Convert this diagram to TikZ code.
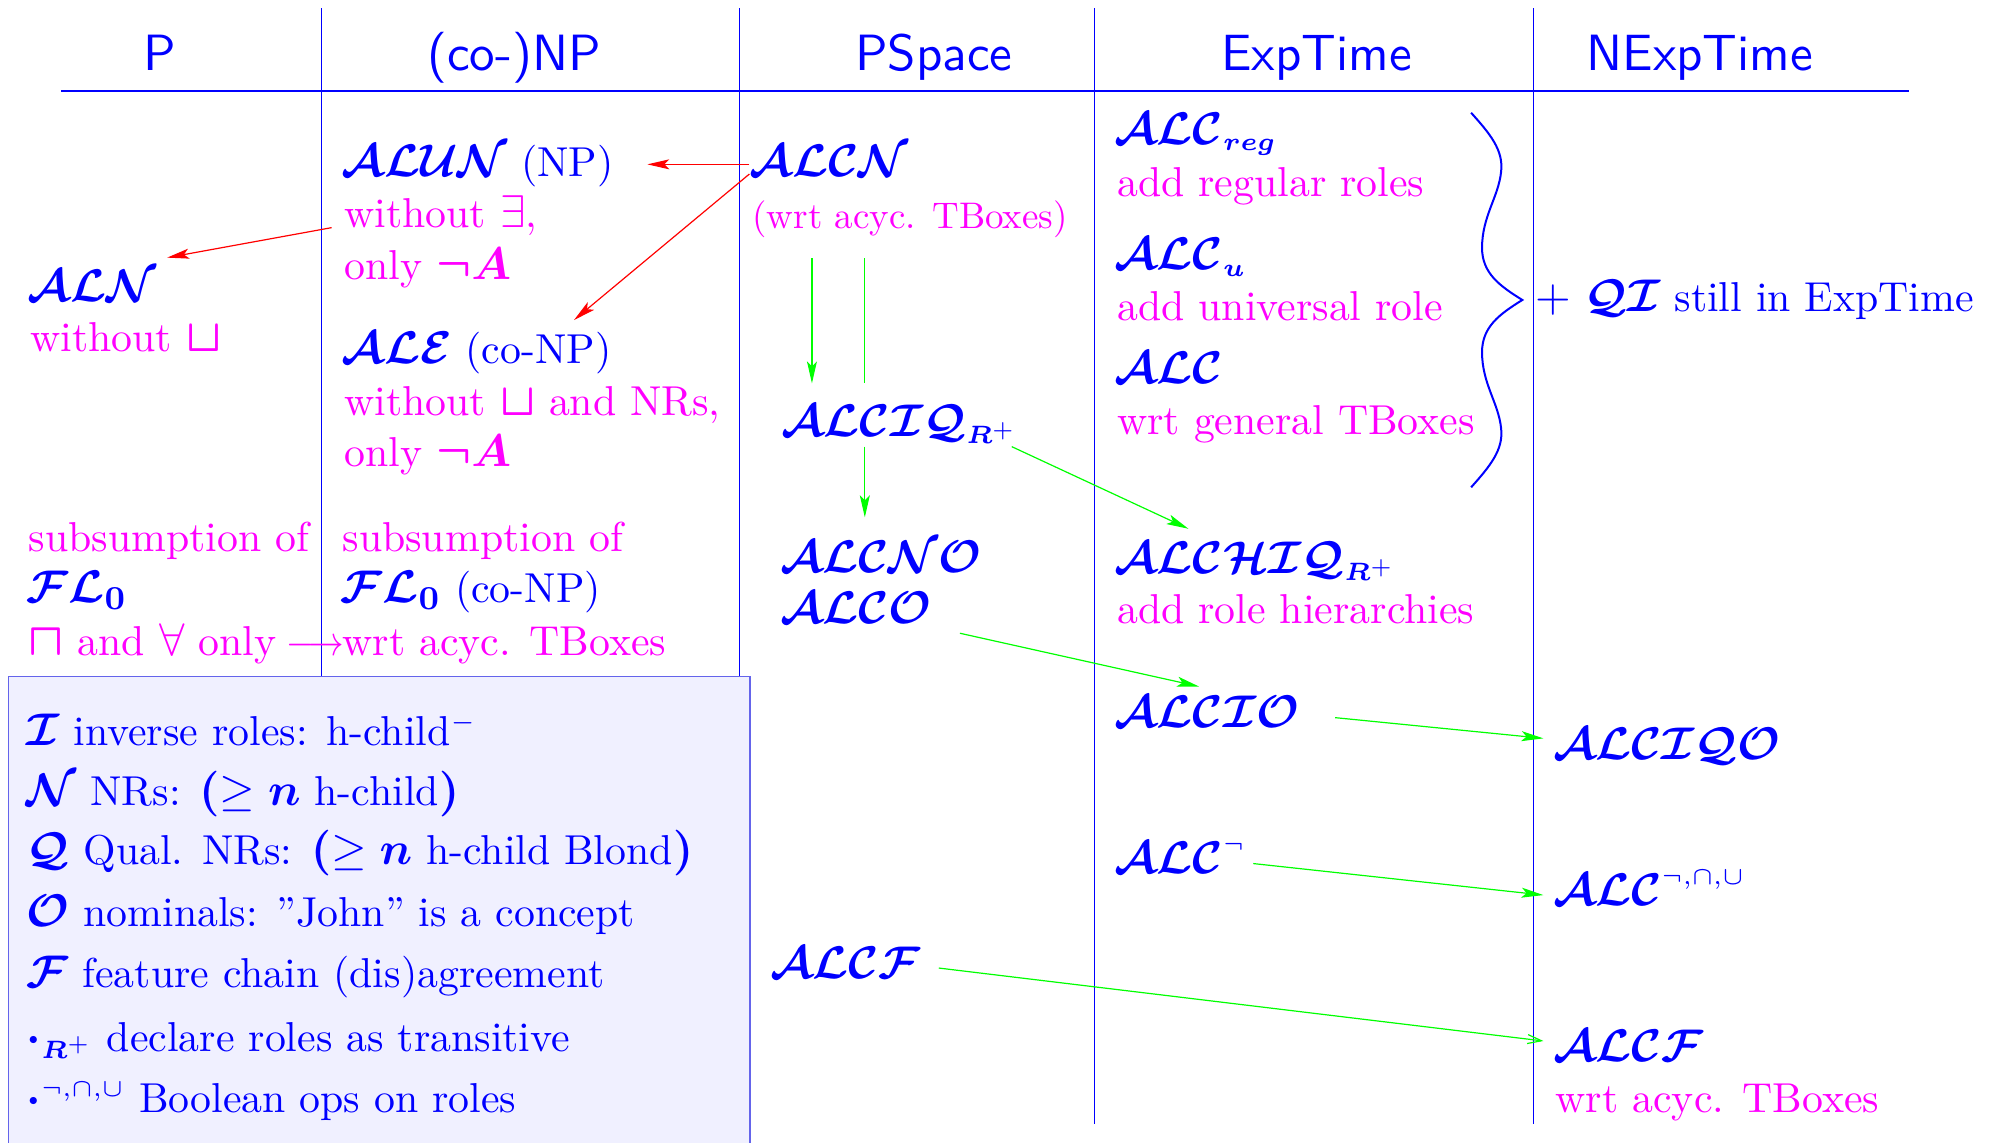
\documentclass[tikz,border=0pt]{standalone}
\usepackage{amsmath,amssymb,bm}
\usetikzlibrary{arrows.meta}
\DeclareMathSizes{11.1}{11.1}{6.4}{5}
\definecolor{mgn}{RGB}{255,0,255}
\definecolor{bl}{RGB}{0,0,255}
\definecolor{gr}{RGB}{0,255,0}
\definecolor{rd}{RGB}{255,0,0}
\definecolor{boxfill}{RGB}{240,240,255}
\definecolor{boxline}{RGB}{100,100,235}
\newcommand{\M}[1]{{\fontsize{11.1}{13}\selectfont$#1$}}
\newcommand{\zerosub}{_{\mbox{\fontsize{8.3}{9}\selectfont$\bm{0}$}}}
\begin{document}
\begin{tikzpicture}[x=0.6355pt,y=-0.6355pt,
  txt/.style={anchor=base west, inner sep=0pt, outer sep=0pt, scale=2.09},
  mg/.style={txt, text=mgn},
  bk/.style={txt, text=bl},
  hd/.style={anchor=base, inner sep=0pt, outer sep=0pt, scale=2.55, text=bl, font=\sffamily},
  vline/.style={draw=bl, line width=0.5pt},
  hline/.style={draw=bl, line width=0.8pt},
  rarr/.style={draw=rd, line width=0.6pt, -{Stealth[length=11pt,width=5pt,inset=2.5pt]}},
  garr/.style={draw=gr, line width=0.6pt, -{Stealth[length=11pt,width=5pt,inset=2.5pt]}},
  gline/.style={draw=gr, line width=0.6pt},
  garro/.style={draw=gr, line width=0.6pt, -{Straight Barb[length=7pt,width=4.5pt]}},
  brace/.style={draw=bl, line width=1pt}
]
\useasboundingbox (0,0) rectangle (1568,899);

% grid lines
\draw[hline] (48,71.4) -- (1502,71.4);
\coordinate (v1t) at (252.9,6.6); \coordinate (v1b) at (252.9,532);
\coordinate (v2t) at (582,6.6);   \coordinate (v2b) at (582,532);
\coordinate (v3t) at (861,6.6);   \coordinate (v3b) at (861,884.2);
\coordinate (v4t) at (1206.2,6.6);\coordinate (v4b) at (1206.2,884.2);
\draw[vline] (v1t) -- (v1b);
\draw[vline] (v2t) -- (v2b);
\draw[vline] (v3t) -- (v3b);
\draw[vline] (v4t) -- (v4b);

% headers
\node[hd] (h1) at (125.4,55.6) {P};
\node[hd] (h2) at (404.4,55.6) {(co-)NP};
\node[hd] (h3) at (734.7,55.6) {PSpace};
\node[hd] (h4) at (1035.8,55.6) {ExpTime};
\node[hd] (h5) at (1337.3,55.6) {NExpTime};

% column P
\node[bk] (aln) at (22,237) {\M{\bm{\mathcal{ALN}}}};
\node[mg] (alnd) at (24,276.7) {without \M{\bm{\sqcup}}};
\node[mg] (fla) at (22.6,433.7) {subsumption of};
\node[bk] (flb) at (21,474) {\M{\bm{\mathcal{FL}}\zerosub}};
\node[mg] (flc) at (22.6,515.4) {\M{\bm{\sqcap}} and \M{\forall} only\hspace{0.25em}\scalebox{0.85}[1]{$\longrightarrow$}};

% column (co-)NP
\node[bk] (alun) at (269,139) {\M{\bm{\mathcal{ALUN}}} (NP)};
\node[mg] (alund1) at (271,179) {without \M{\exists},};
\node[mg] (alund2) at (271,219.8) {only \M{\bm{\neg A}}};
\node[bk] (ale) at (269,286) {\M{\bm{\mathcal{ALE}}} (co-NP)};
\node[mg] (aled1) at (271,326.5) {without \M{\bm{\sqcup}} and NRs,};
\node[mg] (aled2) at (271,367) {only \M{\bm{\neg A}}};
\node[mg] (fma) at (269.5,433.7) {subsumption of};
\node[bk] (fmb) at (268,474) {\M{\bm{\mathcal{FL}}\zerosub} (co-NP)};
\node[mg] (fmc) at (269.5,515.4) {wrt acyc. TBoxes};

% column PSpace
\node[bk] (alcn) at (590,139) {\M{\bm{\mathcal{ALCN}}}};
\node[mg, scale=1.85/2.09] (alcnd) at (592,179.6) {(wrt acyc. TBoxes)};
\node[bk] (alciq) at (615,343.6) {\M{\bm{\mathcal{ALCIQ}}_{\bm{R}^{+}}}};
\node[bk] (alcno) at (614,450.8) {\M{\bm{\mathcal{ALCNO}}}};
\node[bk] (alco) at (614,490.2) {\M{\bm{\mathcal{ALCO}}}};
\node[bk] (alcf) at (606,770) {\M{\bm{\mathcal{ALCF}}}};

% column ExpTime
\node[bk] (alcreg) at (877,113.3) {\M{\bm{\mathcal{ALC}_{reg}}}};
\node[mg] (alcregd) at (879,154.2) {add regular roles};
\node[bk] (alcu) at (877,211.9) {\M{\bm{\mathcal{ALC}_{u}}}};
\node[mg] (alcud) at (879,252.3) {add universal role};
\node[bk] (alc) at (877,302) {\M{\bm{\mathcal{ALC}}}};
\node[mg] (alcd) at (879,342.2) {wrt general TBoxes};
\node[bk] (alchiq) at (877,451.4) {\M{\bm{\mathcal{ALCHIQ}}_{\bm{R}^{+}}}};
\node[mg] (alchiqd) at (879,490.2) {add role hierarchies};
\node[bk] (alcio) at (877,572.4) {\M{\bm{\mathcal{ALCIO}}}};
\node[bk] (alcneg) at (877,687.5) {\M{\bm{\mathcal{ALC}}^{\neg}}};

% column NExpTime
\node[bk] (qi) at (1207.7,245) {\M{+} \M{\bm{\mathcal{QI}}} still in ExpTime};
\node[bk] (alciqo) at (1222,597.5) {\M{\bm{\mathcal{ALCIQO}}}};
\node[bk] (alcbool) at (1222,712.6) {\M{\bm{\mathcal{ALC}}^{\neg,\cap,\cup}}};
\node[bk] (alcft) at (1222,835.2) {\M{\bm{\mathcal{ALCF}}}};
\node[mg] (alcftd) at (1224,875.4) {wrt acyc. TBoxes};

% brace
\draw[brace] (1157.4,88.7) .. controls (1172,105) and (1183,118) .. (1181,135)
  .. controls (1179,155) and (1166,170) .. (1166,195)
  .. controls (1166,215) and (1180,225) .. (1197.7,236)
  .. controls (1180,247) and (1166,257) .. (1166,277)
  .. controls (1166,302) and (1179,317) .. (1181,337)
  .. controls (1183,354) and (1172,367) .. (1157.4,383.4);

% legend box
\draw[fill=boxfill, draw=boxline, line width=0.6pt] (7,532) rectangle (590,910);
\node[bk] (l1) at (21,586.9) {\M{\bm{\mathcal{I}}} inverse roles: h-child\M{^-}};
\node[bk] (l2) at (21,633.6) {\M{\bm{\mathcal{N}}} NRs: \M{\bm{(}\geq \bm{n}} h-child\M{\bm{)}}};
\node[bk] (l3) at (21,680.4) {\M{\bm{\mathcal{Q}}} Qual. NRs: \M{\bm{(}\geq \bm{n}} h-child Blond\M{\bm{)}}};
\node[bk] (l4) at (21,728.7) {\M{\bm{\mathcal{O}}} nominals: ''John'' is a concept};
\node[bk] (l5) at (21,777.1) {\M{\bm{\mathcal{F}}} feature chain (dis)agreement};
\node[bk] (l6) at (21,827) {\M{\bm{\cdot}_{\bm{R}^{+}}} declare roles as transitive};
\node[bk] (l7) at (21,875.4) {\M{\bm{\cdot}^{\neg,\cap,\cup}} Boolean ops on roles};

% red arrows
\coordinate (r1s) at (589.6,129.3); \coordinate (r1e) at (509.3,129.3);
\coordinate (r2s) at (589.6,136.9); \coordinate (r2e) at (451.6,251.8);
\coordinate (r3s) at (260.9,179.1); \coordinate (r3e) at (131.5,202.7);
\draw[rarr] (r1s) -- (r1e);
\draw[rarr] (r2s) -- (r2e);
\draw[rarr] (r3s) -- (r3e);

% green arrows
\coordinate (g1s) at (638.8,203.3); \coordinate (g1e) at (638.8,301.6);
\coordinate (g2s) at (680.4,203.3); \coordinate (g2e) at (680.4,301.6);
\coordinate (g3s) at (680.4,351.4); \coordinate (g3e) at (680.4,407);
\coordinate (g4s) at (796,351.4);   \coordinate (g4e) at (935,416);
\coordinate (g5s) at (755.2,498.2); \coordinate (g5e) at (943.3,540.1);
\coordinate (g6s) at (1050.4,564.6);\coordinate (g6e) at (1214.3,580.9);
\coordinate (g7s) at (986,679.4);   \coordinate (g7e) at (1214.3,704.2);
\coordinate (g8s) at (738.6,761.6); \coordinate (g8e) at (1214.3,819);
\draw[garr] (g1s) -- (g1e);
\draw[gline] (g2s) -- (g2e);
\draw[garr] (g3s) -- (g3e);
\draw[garr] (g4s) -- (g4e);
\draw[garr] (g5s) -- (g5e);
\draw[garr] (g6s) -- (g6e);
\draw[garr] (g7s) -- (g7e);
\draw[garro] (g8s) -- (g8e);
\end{tikzpicture}
\end{document}
